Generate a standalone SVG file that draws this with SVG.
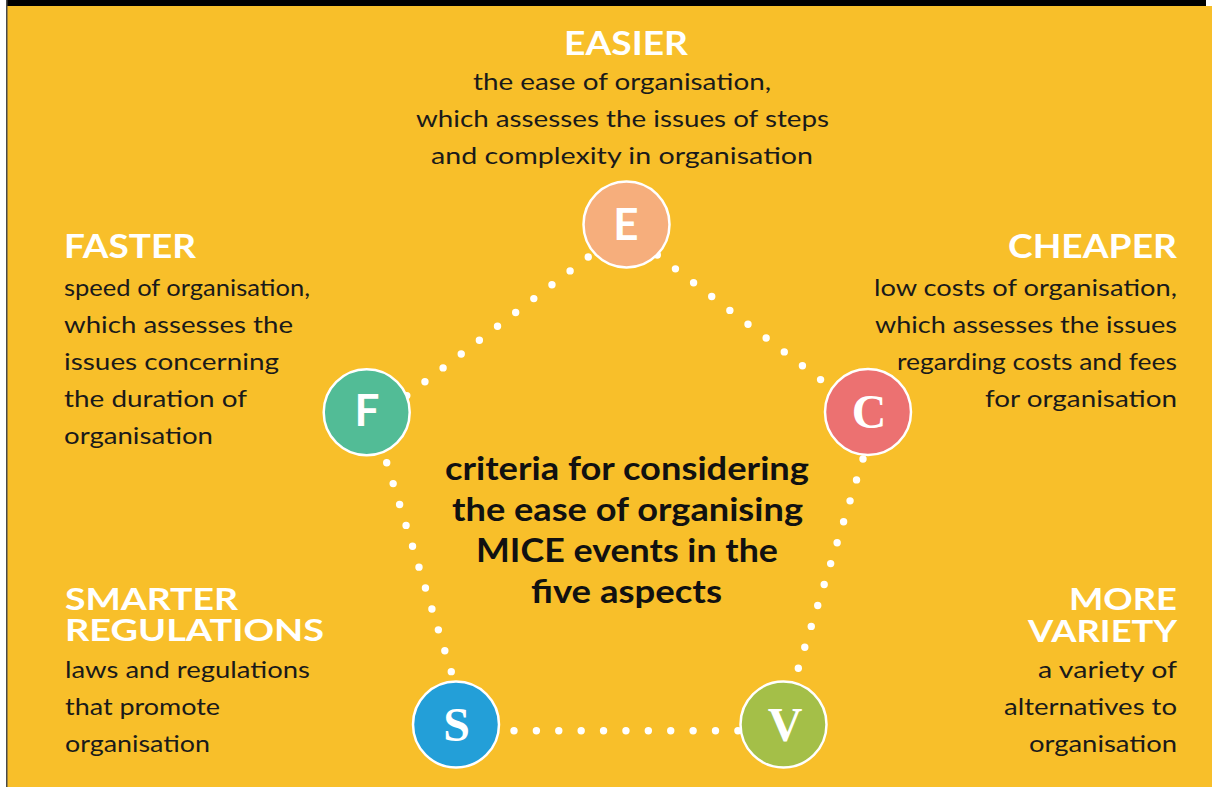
<svg xmlns="http://www.w3.org/2000/svg" width="1212" height="787" viewBox="0 0 1212 787">
<style>
.title{font-family:Lato,"Liberation Sans",sans-serif;font-weight:bold;font-size:33px;fill:#ffffff}
.title2{font-family:Lato,"Liberation Sans",sans-serif;font-weight:bold;font-size:31px;fill:#ffffff}
.body{font-family:Lato,"Liberation Sans",sans-serif;font-size:24px;fill:#1a1a1a}
.center{font-family:Lato,"Liberation Sans",sans-serif;font-weight:bold;font-size:32px;fill:#111111}
.node{stroke:#ffffff;stroke-width:2.5}
.ls{font-family:Lato,"Liberation Sans",sans-serif;font-weight:bold;font-size:44px;fill:#ffffff;text-anchor:middle}
.lr{font-family:"Liberation Serif",serif;font-weight:bold;font-size:48px;fill:#ffffff;text-anchor:middle}
.dot{stroke:#ffffff;stroke-width:7.4;stroke-linecap:round;fill:none}
</style>
<rect x="0" y="0" width="1212" height="787" fill="#ffffff"/>
<rect x="7" y="6" width="1205" height="781" fill="#F8BF2A"/>
<rect x="7" y="0" width="1199" height="6" fill="#000000"/>
<rect x="6" y="0" width="1.5" height="787" fill="#4a4a4a"/>

<g id="connectors">
<line class="dot" x1="406.8" y1="395.6" x2="588.3" y2="257" stroke-dasharray="0 22.83"/>
<line class="dot" x1="657.3" y1="255" x2="820.7" y2="379.7" stroke-dasharray="0 22.82"/>
<line class="dot" x1="863" y1="459" x2="798.3" y2="668.3" stroke-dasharray="0 21.9"/>
<line class="dot" x1="386.7" y1="462.7" x2="451.3" y2="671.7" stroke-dasharray="0 21.87"/>
<line class="dot" x1="514" y1="730.7" x2="738" y2="730.7" stroke-dasharray="0 22.39"/>
</g>

<g id="node-E">
<circle class="node" cx="626.5" cy="224.5" r="43" fill="#F6AE7C"/>
<text class="ls" x="626" y="240">E</text>
</g>
<g id="node-F">
<circle class="node" cx="366.7" cy="412.3" r="43" fill="#52BC96"/>
<text class="ls" x="367" y="426">F</text>
</g>
<g id="node-C">
<circle class="node" cx="868" cy="412" r="43" fill="#EC7171"/>
<text class="lr" x="869" y="428">C</text>
</g>
<g id="node-S">
<circle class="node" cx="456" cy="724.5" r="43" fill="#239FD8"/>
<text class="lr" x="456.5" y="740.5">S</text>
</g>
<g id="node-V">
<circle class="node" cx="783.5" cy="724.5" r="43" fill="#A4BF48"/>
<text class="lr" x="785" y="740.5">V</text>
</g>

<g id="label-easier">
<text class="title" x="564" y="55" textLength="124" lengthAdjust="spacingAndGlyphs">EASIER</text>
<text class="body" x="473" y="90" textLength="298" lengthAdjust="spacingAndGlyphs">the ease of organisation,</text>
<text class="body" x="416" y="127" textLength="413" lengthAdjust="spacingAndGlyphs">which assesses the issues of steps</text>
<text class="body" x="431" y="164" textLength="382" lengthAdjust="spacingAndGlyphs">and complexity in organisation</text>
</g>

<g id="label-faster">
<text class="title" x="64" y="258" textLength="132" lengthAdjust="spacingAndGlyphs">FASTER</text>
<text class="body" x="64" y="296" textLength="246" lengthAdjust="spacingAndGlyphs">speed of organisation,</text>
<text class="body" x="64" y="333" textLength="229" lengthAdjust="spacingAndGlyphs">which assesses the</text>
<text class="body" x="64" y="370" textLength="215" lengthAdjust="spacingAndGlyphs">issues concerning</text>
<text class="body" x="64" y="407" textLength="183" lengthAdjust="spacingAndGlyphs">the duration of</text>
<text class="body" x="64" y="444" textLength="149" lengthAdjust="spacingAndGlyphs">organisation</text>
</g>

<g id="label-cheaper">
<text class="title" x="1008" y="258" textLength="169" lengthAdjust="spacingAndGlyphs">CHEAPER</text>
<text class="body" x="874" y="296" textLength="303" lengthAdjust="spacingAndGlyphs">low costs of organisation,</text>
<text class="body" x="875" y="333" textLength="302" lengthAdjust="spacingAndGlyphs">which assesses the issues</text>
<text class="body" x="897" y="370" textLength="280" lengthAdjust="spacingAndGlyphs">regarding costs and fees</text>
<text class="body" x="985" y="407" textLength="192" lengthAdjust="spacingAndGlyphs">for organisation</text>
</g>

<g id="label-smarter">
<text class="title2"><tspan x="65" y="610" textLength="173" lengthAdjust="spacingAndGlyphs">SMARTER</tspan><tspan x="65" y="641" textLength="259" lengthAdjust="spacingAndGlyphs">REGULATIONS</tspan></text>
<text class="body" x="65" y="678" textLength="245" lengthAdjust="spacingAndGlyphs">laws and regulations</text>
<text class="body" x="65" y="715" textLength="155" lengthAdjust="spacingAndGlyphs">that promote</text>
<text class="body" x="65" y="752" textLength="145" lengthAdjust="spacingAndGlyphs">organisation</text>
</g>

<g id="label-variety">
<text class="title2"><tspan x="1069" y="610" textLength="108" lengthAdjust="spacingAndGlyphs">MORE</tspan><tspan x="1028" y="642" textLength="149" lengthAdjust="spacingAndGlyphs">VARIETY</tspan></text>
<text class="body" x="1038" y="678" textLength="139" lengthAdjust="spacingAndGlyphs">a variety of</text>
<text class="body" x="1004" y="715" textLength="173" lengthAdjust="spacingAndGlyphs">alternatives to</text>
<text class="body" x="1029" y="752" textLength="148" lengthAdjust="spacingAndGlyphs">organisation</text>
</g>

<g id="center-label">
<text class="center" x="445" y="480" textLength="364" lengthAdjust="spacingAndGlyphs">criteria for considering</text>
<text class="center" x="452" y="521" textLength="351" lengthAdjust="spacingAndGlyphs">the ease of organising</text>
<text class="center" x="476" y="562" textLength="302" lengthAdjust="spacingAndGlyphs">MICE events in the</text>
<text class="center" x="531" y="603" textLength="191" lengthAdjust="spacingAndGlyphs">five aspects</text>
</g>
</svg>
